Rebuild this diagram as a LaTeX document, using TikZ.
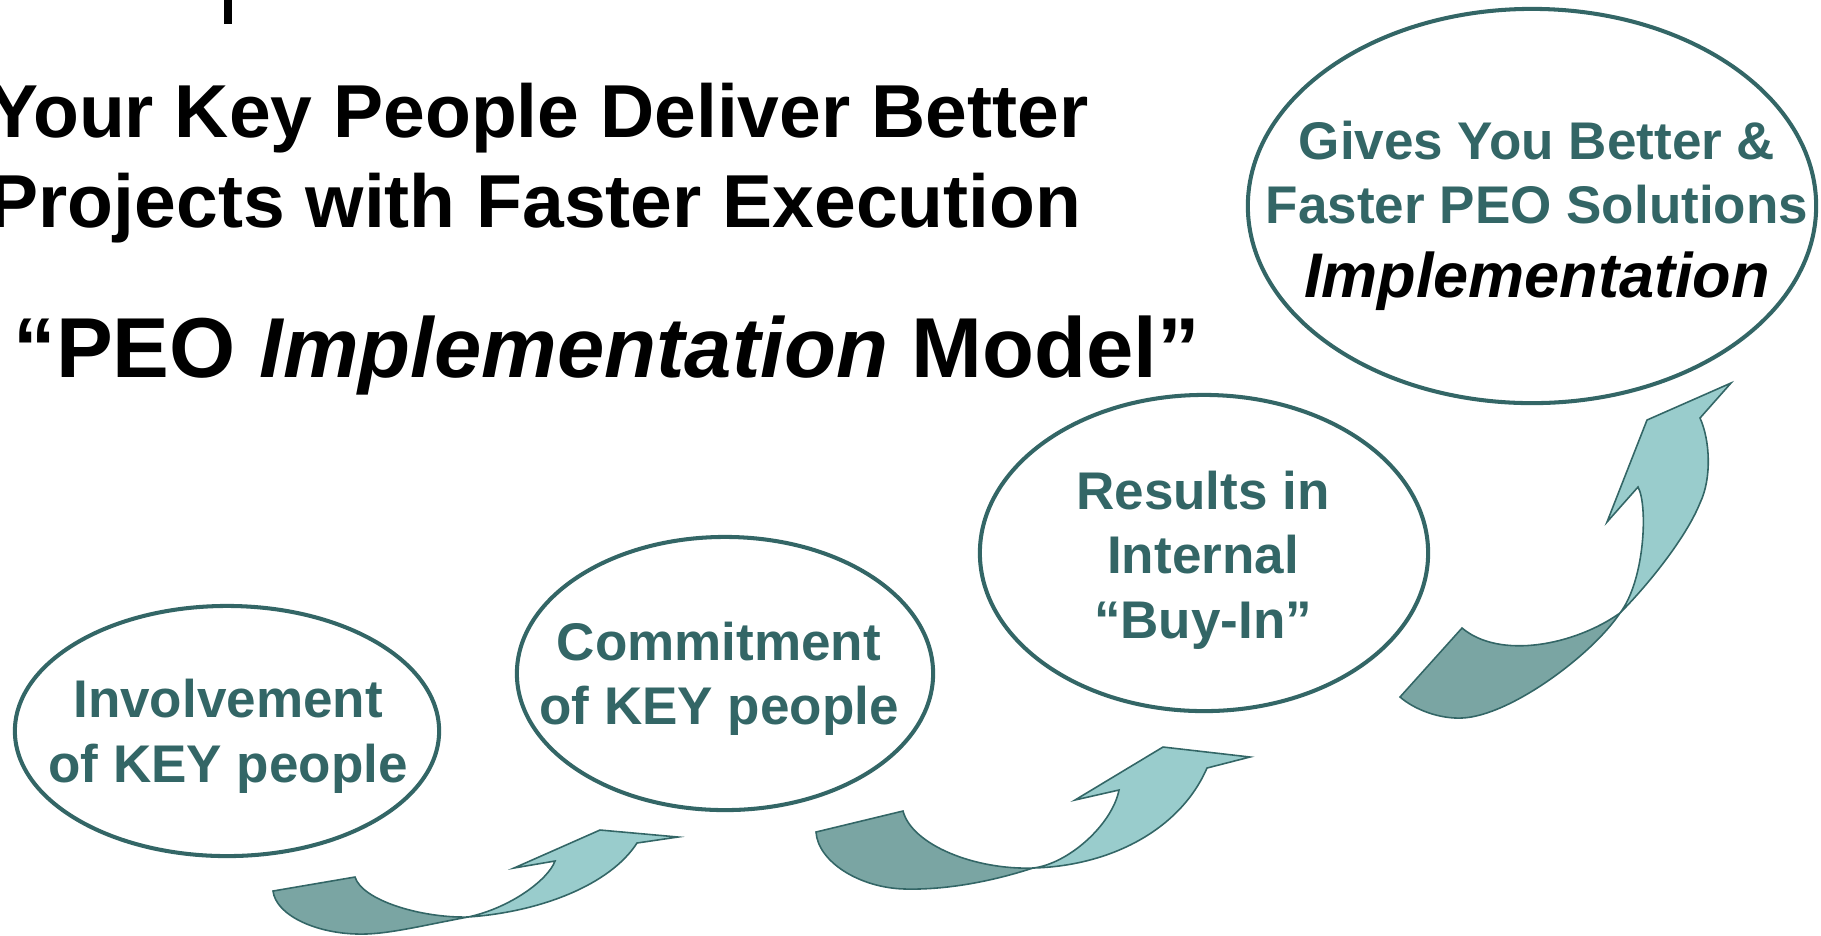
\documentclass[tikz,border=0pt]{standalone}
\usepackage{fontspec}
\setmainfont{Liberation Sans}
\usetikzlibrary{shapes.geometric}
\definecolor{peoteal}{HTML}{336666}
\definecolor{peodark}{HTML}{7AA5A3}
\definecolor{peolight}{HTML}{99CCCC}

\begin{document}
\begin{tikzpicture}[x=0.01cm, y=-0.01cm,
    bubble/.style={ellipse, draw=peoteal, line width=1.15pt, inner sep=0pt},
    bubtext/.style={text=peoteal, align=center, inner sep=0pt,
        font=\fontsize{15.08pt}{18.35pt}\selectfont\bfseries},
    headline/.style={anchor=base west, inner sep=0pt,
        font=\fontsize{21.34pt}{25.6pt}\selectfont\bfseries},
    tailpart/.style={fill=peodark, draw=peoteal, line width=0.45pt},
    headpart/.style={fill=peolight, draw=peoteal, line width=0.45pt}]
    \useasboundingbox (0,0) rectangle (1821,935);

    % stub at the top edge
    \fill (224,0) rectangle (232,24);

    \node[headline] (head1) at (-12,137) {Your Key People Deliver Better};
    \node[headline] (head2) at (-12,227) {Projects with Faster Execution};
    \node[headline, font=\fontsize{24.19pt}{29pt}\selectfont\bfseries] (model) at (13,377)
        {“PEO \textit{Implementation} Model”};

    \node[bubble, minimum width=4.24cm, minimum height=2.50cm] (involve) at (227,731) {};
    \node[bubble, minimum width=4.16cm, minimum height=2.73cm] (commit) at (725,673.5) {};
    \node[bubble, minimum width=4.48cm, minimum height=3.16cm] (buyin) at (1204,553) {};
    \node[bubble, minimum width=5.68cm, minimum height=3.94cm] (gives) at (1532,206) {};

    \node[bubtext] (involvetxt) at (228,736.5) {Involvement\\of KEY people};
    \node[bubtext] (committxt) at (719,678.7) {Commitment\\of KEY people};
    \node[bubtext] (buyintxt) at (1203,560) {Results in\\Internal\\“Buy-In”};
    \node[bubtext] (givestxt) at (1537,215.6) {Gives You Better \&\\Faster PEO Solutions\\[0.095cm]%
        {\color{black}\fontsize{17.93pt}{18.35pt}\selectfont\itshape Implementation}};

    % curved arrows, back part then front part
    \draw[tailpart] (273,891) -- (355,877) .. controls (362,900) and (420,918) .. (468,917)
        .. controls (420,926) and (385,935) .. (357,934) .. controls (315,933) and (276,915) .. (273,891) -- cycle;
    \draw[headpart] (468,917) .. controls (540,912) and (610,885) .. (637,843) -- (678,837) -- (600,830)
        -- (514,868) -- (555,861) .. controls (548,880) and (510,908) .. (468,917) -- cycle;

    \draw[tailpart] (816,832) -- (903,811) .. controls (912,845) and (975,870) .. (1033,868)
        .. controls (990,882) and (945,890) .. (905,889) .. controls (860,888) and (818,862) .. (816,832) -- cycle;
    \draw[headpart] (1033,868) .. controls (1110,866) and (1180,830) .. (1207,768) -- (1250,757) -- (1163,747)
        -- (1075,800) -- (1119,790) .. controls (1112,825) and (1068,864) .. (1033,868) -- cycle;

    \draw[tailpart] (1400,697) -- (1462,628) .. controls (1500,660) and (1575,645) .. (1620,613)
        .. controls (1592,655) and (1510,716) .. (1462,718) .. controls (1440,719) and (1415,710) .. (1400,697) -- cycle;
    \draw[headpart] (1620,613) .. controls (1645,588) and (1685,540) .. (1700,503)
        .. controls (1712,478) and (1710,440) .. (1700,418) -- (1731,383) -- (1647,420)
        -- (1607,522) -- (1638,487) .. controls (1648,505) and (1645,580) .. (1620,613) -- cycle;
\end{tikzpicture}
\end{document}
